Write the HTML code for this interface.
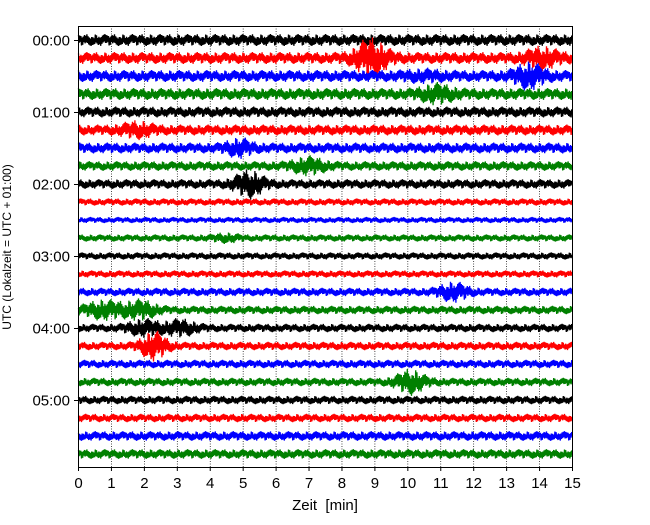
<!DOCTYPE html>
<html><head><meta charset="utf-8"><style>
body{margin:0;background:#fff;}
svg text{font-family:"Liberation Sans",sans-serif;}
</style></head><body>
<svg id="chart" width="650" height="520" xmlns="http://www.w3.org/2000/svg">
<g id="grid"></g>
<g id="traces"></g>
<rect x="78.5" y="26.5" width="494" height="441" fill="none" stroke="#000" stroke-width="1"/>
<g id="xaxis"></g>
<g id="yaxis"></g>
<text x="325" y="510" font-size="15" text-anchor="middle" xml:space="preserve">Zeit  [min]</text>
<text transform="translate(11,247) rotate(-90)" font-size="12" text-anchor="middle">UTC (Lokalzeit = UTC + 01:00)</text>
</svg>
<script>
const xTicks=[0,1,2,3,4,5,6,7,8,9,10,11,12,13,14,15];
const hourLabels=["00:00","01:00","02:00","03:00","04:00","05:00"];
const traceColors=["#000","red","blue","green"];
const baseAmp=[5,5,5,5,4.5,4.5,4.5,4,4,3,2.5,3,3,3,3.5,3.5,3.5,3.5,3.5,3.5,3.5,3.5,4,4];
const eventTrace=[1,1,2,2,3,5,6,7,8,11,14,15,15,16,16,17,19];
const eventMin=[8.9,14.1,13.7,10.5,10.9,1.8,4.9,7.0,5.2,4.5,11.4,0.8,1.9,2.0,3.1,2.3,10.1];
const eventAmp=[13,6,8,2,5,4,5,5,9,2,6,6,6,5,5,10,8];
const eventWidth=[0.5,0.5,0.45,0.6,0.5,0.5,0.4,0.5,0.45,0.4,0.45,0.6,0.5,0.5,0.5,0.4,0.45];
const ns="http://www.w3.org/2000/svg";
const X0=78,X1=572,Y0=40,DY=18;
const xs=m=>X0+(X1-X0)*m/15;
const ys=i=>Y0+DY*i;
const grid=document.getElementById('grid'),xa=document.getElementById('xaxis'),ya=document.getElementById('yaxis'),tr=document.getElementById('traces');
xTicks.forEach(t=>{
 const x=xs(t)+0.5;
 if(t>0&&t<15){const l=document.createElementNS(ns,'line');
 
 
 l.setAttribute('x1',x);l.setAttribute('x2',x);l.setAttribute('y1',26);l.setAttribute('y2',467);
 l.setAttribute('stroke','#000');l.setAttribute('stroke-width','0.7');l.setAttribute('stroke-dasharray','1,1.5');grid.appendChild(l);}
 const tk=document.createElementNS(ns,'line');
 
 
 tk.setAttribute('x1',x);tk.setAttribute('x2',x);tk.setAttribute('y1',467);tk.setAttribute('y2',471);tk.setAttribute('stroke','#000');xa.appendChild(tk);
 const tx=document.createElementNS(ns,'text');
 
 
 tx.setAttribute('x',x);tx.setAttribute('y',488);tx.setAttribute('font-size','15');tx.setAttribute('text-anchor','middle');tx.textContent=t;xa.appendChild(tx);
});
hourLabels.forEach((h,i)=>{
 const y=ys(i*4)+0.5;
 const tk=document.createElementNS(ns,'line');
 
 
 tk.setAttribute('x1',74);tk.setAttribute('x2',78);tk.setAttribute('y1',y);tk.setAttribute('y2',y);tk.setAttribute('stroke','#000');ya.appendChild(tk);
 const tx=document.createElementNS(ns,'text');
 
 
 tx.setAttribute('x',70);tx.setAttribute('y',y+5);tx.setAttribute('font-size','15');tx.setAttribute('text-anchor','end');tx.textContent=h;ya.appendChild(tx);
});
const wig=[1,0.55,0.9,0.35,0.8,1.1,0.5,0.95,0.7,0.4,1.0,0.65,0.85,0.45,1.15,0.6,0.75,0.9,0.5,1.05,0.3,1.2,0.6];
baseAmp.forEach((b,i)=>{
 const y=ys(i);let d='';let k=0;
 for(let x=X0+0.5;x<X1;x+=0.6,k++){
  const m=(x-X0)/(X1-X0)*15;let a=b;
  eventTrace.forEach((t,j)=>{if(t===i){const z=(m-eventMin[j])/eventWidth[j];a+=eventAmp[j]*Math.exp(-z*z);}});
  const v=(k%2?1:-1)*a*wig[(k+i*7)%wig.length];
  d+=(k?'L':'M')+x.toFixed(1)+','+(y+v).toFixed(1);
 }
 const p=document.createElementNS(ns,'path');
 
 
 p.setAttribute('d',d);p.setAttribute('fill','none');p.setAttribute('stroke',traceColors[i%4]);p.setAttribute('stroke-width','1.3');
 tr.appendChild(p);
});
</script>
</body></html>
